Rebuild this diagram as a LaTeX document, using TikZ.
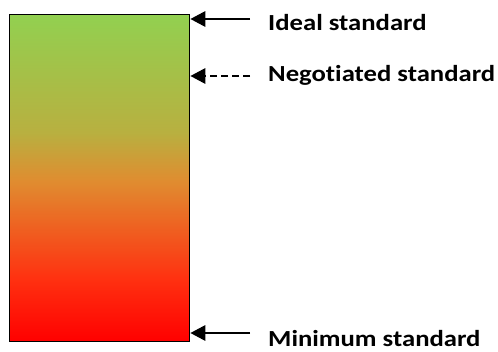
\documentclass[tikz,border=0pt]{standalone}
\usepackage{fontspec}
\setmainfont[Ligatures=NoCommon, BoldFeatures={FakeStretch=1.16}]{Carlito}
\usetikzlibrary{arrows.meta}
\definecolor{bargreen}{HTML}{92D050}
\definecolor{barolive}{HTML}{B8B040}
\definecolor{barorange}{HTML}{E08C30}
\definecolor{barscarlet}{HTML}{FF3010}
\definecolor{barred}{HTML}{FF0000}
\pgfdeclareverticalshading{standardbar}{100bp}{color(0bp)=(barred); color(25bp)=(barred); color(34.5bp)=(barscarlet); color(49.5bp)=(barorange); color(57bp)=(barolive); color(75bp)=(bargreen); color(100bp)=(bargreen)}
\begin{document}
\begin{tikzpicture}[x=1pt, y=-1pt,
  every node/.style={inner sep=0pt},
  bar/.style={draw=black, line width=1.3pt, shading=standardbar, minimum width=180pt, minimum height=327pt, anchor=north west},
  label/.style={anchor=base west, font=\bfseries\fontsize{23}{27}\selectfont},
  pointer/.style={line width=2.9pt, -{Triangle[length=15pt,width=15pt]}}]
\useasboundingbox (0,0) rectangle (498,352);
\node[bar] (bar) at (9,14) {};
\node[label] (ideal) at (268,31) {Ideal standard};
\node[label] (negotiated) at (268,82) {Negotiated standard};
\node[label] (minimum) at (268,347) {Minimum standard};
\coordinate (idealtail) at (250,19);
\coordinate (negotiatedtail) at (250,76);
\coordinate (minimumtail) at (250,333);
\draw[pointer] (idealtail) -- (bar.east |- idealtail);
\draw[pointer, dash pattern=on 7pt off 4pt] (negotiatedtail) -- (bar.east |- negotiatedtail);
\draw[pointer] (minimumtail) -- (bar.east |- minimumtail);
\end{tikzpicture}
\end{document}
